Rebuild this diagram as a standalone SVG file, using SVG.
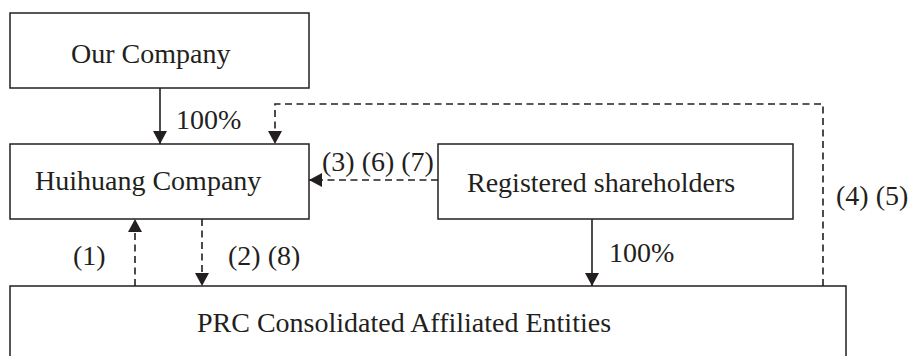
<svg xmlns="http://www.w3.org/2000/svg" width="909" height="356" viewBox="0 0 909 356">
<style>
.box{fill:#fff;stroke:#231f20;stroke-width:1.5}
.t{font-family:"Liberation Serif","Times New Roman",serif;font-size:28px;fill:#231f20}
.ln{fill:none;stroke:#231f20;stroke-width:1.6}
.dash{stroke-dasharray:7 4.5}
</style>
<defs>
<marker id="ah" viewBox="0 0 13 14" refX="13" refY="7" markerWidth="13" markerHeight="14" markerUnits="userSpaceOnUse" orient="auto">
<path d="M0,0 L13,7 L0,14 Z" fill="#231f20"/>
</marker>
</defs>
<rect width="909" height="356" fill="#fff"/>
<g id="our-company">
<rect class="box" x="10" y="13" width="299" height="75"/>
<text class="t" x="71" y="63">Our Company</text>
</g>
<g id="huihuang-company">
<rect class="box" x="10" y="144" width="299" height="75"/>
<text class="t" x="35" y="190">Huihuang Company</text>
</g>
<g id="registered-shareholders">
<rect class="box" x="438" y="144" width="355" height="75"/>
<text class="t" x="467" y="192">Registered shareholders</text>
</g>
<g id="prc-entities">
<rect class="box" x="10" y="286" width="836" height="90"/>
<text class="t" x="197" y="332">PRC Consolidated Affiliated Entities</text>
</g>
<g id="connectors">
<path class="ln" d="M160,88 L160,144" marker-end="url(#ah)"/>
<path class="ln dash" d="M823,286 L823,104 L275,104 L275,144" marker-end="url(#ah)"/>
<path class="ln dash" d="M438,180 L309,180" marker-end="url(#ah)"/>
<path class="ln" d="M592,219 L592,286" marker-end="url(#ah)"/>
<path class="ln dash" d="M135,286 L135,219" marker-end="url(#ah)"/>
<path class="ln dash" d="M202,219 L202,286" marker-end="url(#ah)"/>
<text class="t" x="176" y="129">100%</text>
<text class="t" x="322" y="171">(3) (6) (7)</text>
<text class="t" x="609" y="262">100%</text>
<text class="t" x="836" y="205">(4) (5)</text>
<text class="t" x="73" y="265">(1)</text>
<text class="t" x="228" y="265">(2) (8)</text>
</g>
</svg>
